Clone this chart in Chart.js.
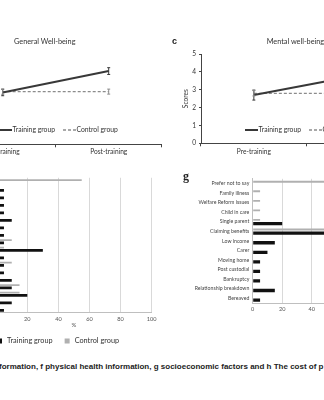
<!DOCTYPE html>
<html><head><meta charset="utf-8">
<script src="https://cdn.jsdelivr.net/npm/chart.js@4.4.0/dist/chart.umd.min.js"></script>
<style>
html,body{margin:0;padding:0;background:#fff;}
body{width:324px;height:400px;overflow:hidden;position:relative;}
.p{position:absolute;}
canvas{display:block;}
.t{position:absolute;white-space:nowrap;font-family:Lato,sans-serif;color:#333;line-height:1;}
</style></head><body>
<div class="p" style="left:-60px;top:0;width:224px;height:170px"><canvas id="cA" width="224" height="170"></canvas></div>
<div class="p" style="left:170px;top:0;width:250px;height:170px"><canvas id="cC" width="250" height="170"></canvas></div>
<div class="p" style="left:-20px;top:170px;width:180px;height:180px"><canvas id="cF" width="180" height="180"></canvas></div>
<div class="p" style="left:160px;top:170px;width:260px;height:150px"><canvas id="cG" width="260" height="150"></canvas></div>
<div class="t" style="left:14px;top:38px;font-size:7.3px;">General Well-being</div>
<div class="t" style="left:172px;top:37px;font-size:9px;font-weight:bold;font-family:'Liberation Sans',sans-serif;color:#222;">c</div>
<div class="t" style="left:266.7px;top:38px;font-size:7.3px;">Mental well-being</div>
<div class="t" style="left:183px;top:170px;font-size:12px;font-weight:bold;font-family:'Liberation Serif',serif;color:#222;">g</div>
<div class="t" id="cap" style="left:-1px;top:363px;font-size:8px;font-weight:bold;font-family:'Liberation Sans',sans-serif;color:#222;">formation, f physical health information, g socioeconomic factors and h The cost of p</div>
<script>
// ---- data ----
const lineCategories = ['Pre-training', 'Post-training'];
const generalTraining = [2.9, 4.1];
const generalTrainingErr = [0.18, 0.19];
const generalControl = [2.95, 2.95];
const generalControlErr = [0.15, 0.14];
const mentalTraining = [2.7, 3.83];
const mentalTrainingErr = [0.28, 0.2];
const mentalControl = [2.8, 2.8];
const mentalControlErr = [0.15, 0.15];

const physicalCategories = ['f1','f2','f3','f4','f5','f6','f7','f8','f9','f10','f11','f12','f13','f14','f15','f16','f17','f18'];
const physicalTraining = [0, 5, 5, 5, 5, 10, 5, 5, 5, 30, 5, 5, 5, 10, 10, 20, 10, 5];
const physicalControl  = [55, 0, 0, 0, 0, 0, 0, 0, 10, 5, 0, 10, 0, 0, 15, 15, 0, 0];

const socioCategories = ['Prefer not to say','Family illness','Welfare Reform issues','Child in care','Single parent','Claiming benefits','Low income','Carer','Moving home','Post custodial','Bankruptcy','Relationship breakdown','Bereaved'];
const socioTraining = [0, 0, 0, 0, 20, 60, 15, 10, 5, 5, 5, 15, 5];
const socioControl  = [55, 5, 5, 5, 5, 65, 0, 0, 0, 0, 0, 0, 0];

const percentTicksMax = 100;
const percentStep = 20;
const scoreMax = 5;

const TRAIN_LINE = '#383838', CTRL_LINE = '#8c8c8c';
const TRAIN_BAR = '#111111', CTRL_BAR = '#b0b0b0';

// ---- plugins ----
const errorBars = {
  id: 'errorBars',
  afterDatasetsDraw(chart) {
    const ctx = chart.ctx, y = chart.scales.y;
    chart.data.datasets.forEach((ds, i) => {
      if (!ds.errors) return;
      const meta = chart.getDatasetMeta(i);
      ctx.save();
      ctx.strokeStyle = ds.borderColor; ctx.lineWidth = 1; ctx.setLineDash([]);
      meta.data.forEach((pt, j) => {
        const v = ds.data[j], e = ds.errors[j];
        const y1 = y.getPixelForValue(v + e), y2 = y.getPixelForValue(v - e);
        ctx.beginPath();
        ctx.moveTo(pt.x, y1); ctx.lineTo(pt.x, y2);
        ctx.moveTo(pt.x - 1.5, y1); ctx.lineTo(pt.x + 1.5, y1);
        ctx.moveTo(pt.x - 1.5, y2); ctx.lineTo(pt.x + 1.5, y2);
        ctx.stroke();
      });
      ctx.restore();
    });
  }
};
const inLegend = {
  id: 'inLegend',
  afterDraw(chart, args, o) {
    if (!o || !o.items) return;
    const ctx = chart.ctx;
    ctx.save();
    ctx.font = o.size + 'px ' + o.family;
    ctx.textBaseline = 'middle';
    let x = o.x; const y = o.y;
    for (let k = 0; k < o.items.length; k++) {
      const it = o.items[k];
      if (it.kind === 'box') {
        ctx.fillStyle = it.color;
        ctx.fillRect(x, y - o.box / 2, o.box, o.box);
        x += o.box + o.gap1;
      } else {
        ctx.strokeStyle = it.color; ctx.lineWidth = it.width;
        ctx.setLineDash(it.dash ? [it.dash[0], it.dash[1]] : []);
        ctx.beginPath(); ctx.moveTo(x, y); ctx.lineTo(x + o.sample, y); ctx.stroke();
        ctx.setLineDash([]);
        x += o.sample + o.gap1;
      }
      ctx.fillStyle = o.color;
      ctx.fillText(it.text, x, y);
      x += ctx.measureText(it.text).width + o.gap2;
    }
    ctx.restore();
  }
};

const lineFont = {family: 'Lato', size: 6.6};

function lineChart(id, tr, trE, co, coE, opts) {
  return new Chart(document.getElementById(id), {
    type: 'line',
    data: {labels: lineCategories, datasets: [
      {label: 'Training group', data: tr, errors: trE, borderColor: TRAIN_LINE, borderWidth: 2, pointRadius: 0, tension: 0, fill: false},
      {label: 'Control group', data: co, errors: coE, borderColor: CTRL_LINE, borderWidth: 1.3, borderDash: [3, 2], pointRadius: 0, tension: 0, fill: false}
    ]},
    options: {
      responsive: false, animation: false, events: [],
      layout: {padding: opts.padding},
      plugins: {
        legend: {display: false}, tooltip: {enabled: false},
        inLegend: {x: opts.legendX, y: 130, size: 6.8, family: 'Lato', color: '#333', sample: 13, gap1: 0.5, gap2: 8, box: 0,
          items: [
            {kind: 'line', text: 'Training group', color: TRAIN_LINE, width: 2},
            {kind: 'line', text: 'Control group', color: CTRL_LINE, width: 1.3, dash: [3, 2]}
          ]}
      },
      scales: {
        x: {type: 'category', offset: true,
            grid: {offset: true, drawOnChartArea: false, tickLength: 3, color: '#444'},
            border: {color: '#444', width: 1},
            ticks: {font: lineFont, color: '#333', padding: opts.xPad, maxRotation: 0},
            afterFit: s => { s.height = 20; }},
        y: opts.y
      }
    },
    plugins: [errorBars, inLegend]
  });
}

lineChart('cA', generalTraining, generalTrainingErr, generalControl, generalControlErr, {
  padding: {left: 9.7, right: 2.3, top: 55, bottom: 5.7}, legendX: 59, xPad: 1,
  y: {display: false, min: 0, max: scoreMax}
});
lineChart('cC', mentalTraining, mentalTrainingErr, mentalControl, mentalControlErr, {
  padding: {left: 12, right: 7.6, top: 54, bottom: 6.7}, legendX: 75, xPad: 2,
  y: {min: 0, max: scoreMax, ticks: {stepSize: 1, font: lineFont, color: '#333', padding: 3},
      grid: {drawOnChartArea: false, tickLength: 2, color: '#444'},
      border: {color: '#444', width: 1},
      title: {display: true, text: 'Scores', font: lineFont, color: '#333', padding: 0},
      afterFit: s => { s.width = 19; }}
});

function barChart(id, cats, tr, co, o) {
  return new Chart(document.getElementById(id), {
    type: 'bar',
    data: {labels: cats, datasets: [
      {label: 'Control group', data: co, backgroundColor: CTRL_BAR, categoryPercentage: o.cat, barPercentage: o.ctrlBar},
      {label: 'Training group', data: tr, backgroundColor: TRAIN_BAR, categoryPercentage: o.cat, barPercentage: o.trBar}
    ]},
    options: {
      indexAxis: 'y', responsive: false, animation: false, events: [],
      layout: {padding: o.padding},
      plugins: {legend: {display: false}, tooltip: {enabled: false}, inLegend: o.legend || {}},
      scales: {
        x: {min: 0, max: percentTicksMax,
            ticks: {stepSize: percentStep, font: {family: 'Lato', size: 5.6}, color: '#555', padding: 3},
            grid: {color: '#d9d9d9', drawTicks: false},
            border: {color: '#bfbfbf'},
            title: o.xTitle || {display: false},
            afterFit: s => { s.height = o.xH; }},
        y: o.y
      }
    },
    plugins: [inLegend]
  });
}

barChart('cF', physicalCategories, physicalTraining, physicalControl, {
  cat: 0.7, ctrlBar: 0.65, trBar: 1,
  padding: {left: 16.2, right: 8.3, top: 7.75, bottom: 21.25}, xH: 16,
  xTitle: {display: true, text: '%', font: {family: 'Lato', size: 6}, color: '#555', padding: 0},
  y: {display: false},
  legend: {x: 17, y: 171, size: 7.3, family: 'Lato', color: '#333', box: 5, gap1: 5, gap2: 12, sample: 0,
    items: [
      {kind: 'box', text: 'Training group', color: TRAIN_BAR},
      {kind: 'box', text: 'Control group', color: CTRL_BAR}
    ]}
});

barChart('cG', socioCategories, socioTraining, socioControl, {
  cat: 0.77, ctrlBar: 0.5, trBar: 0.9,
  padding: {left: 0, right: 19.8, top: 8.8, bottom: 3}, xH: 14,
  y: {grid: {display: false, drawTicks: false}, border: {color: '#bfbfbf'},
      ticks: {font: {family: 'Lato', size: 5.2}, color: '#444', padding: 3.4},
      afterFit: s => { s.width = 92.7; }}
});
</script>
</body></html>
